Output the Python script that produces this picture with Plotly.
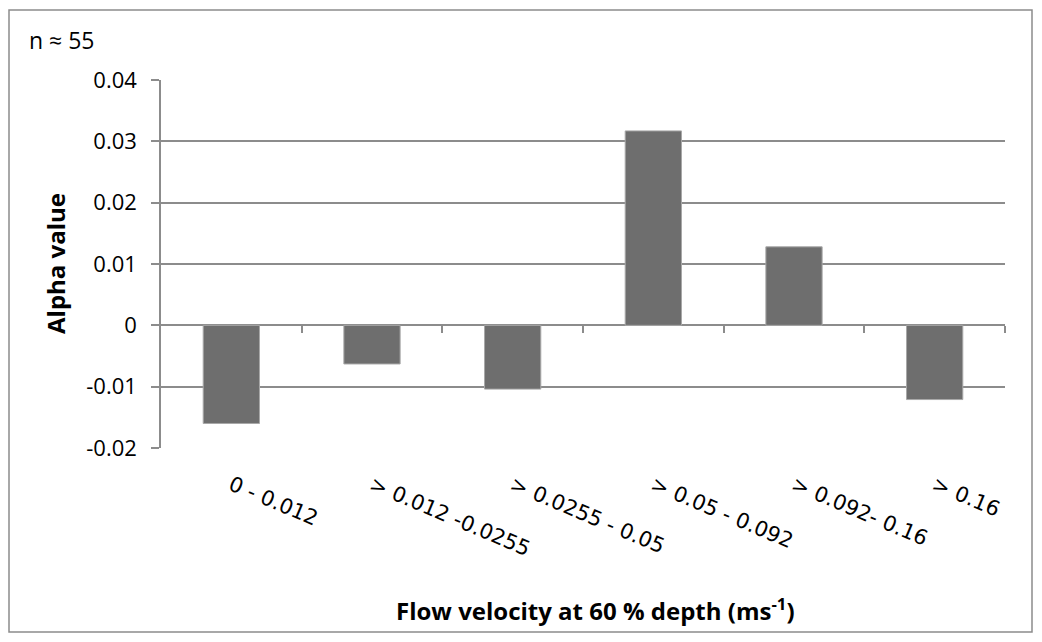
import plotly.graph_objects as go

categories = ["0 - 0.012", "> 0.012 -0.0255", "> 0.0255 - 0.05", "> 0.05 - 0.092", "> 0.092- 0.16", "> 0.16"]
alpha_values = [-0.0160, -0.0063, -0.0104, 0.0317, 0.0128, -0.0121]
y_ticks = [-0.02, -0.01, 0, 0.01, 0.02, 0.03, 0.04]
y_tick_text = ["-0.02", "-0.01", "0", "0.01", "0.02", "0.03", "0.04"]

OFF = 8  # default page body margin
W, H = 1042 - OFF, 642 - OFF
# plot area in screen pixels: x 161..1005, y 80..448
L, R, T, B = 161 - OFF, 1042 - 1005, 80 - OFF, 642 - 448
pw, ph = W - L - R, H - T - B

def px_x(p):
    return (p - OFF - L) / pw

def px_y(p):
    return (H - B - (p - OFF)) / ph

GRID = "#8c8c8c"

fig = go.Figure()
fig.add_trace(go.Bar(
    x=list(range(len(categories))), y=alpha_values,
    marker=dict(color="#6e6e6e", line=dict(color="#a8a8a8", width=1)),
    width=0.4, showlegend=False,
))

zero_pos = (0 - y_ticks[0]) / (y_ticks[-1] - y_ticks[0])

fig.update_layout(
    width=W, height=H,
    margin=dict(l=L, r=R, t=T, b=B, autoexpand=False),
    paper_bgcolor="white", plot_bgcolor="white",
    font=dict(family="Open Sans", color="black"),
    xaxis=dict(
        range=[-0.5, len(categories) - 0.5],
        tickmode="array", tickvals=list(range(len(categories))), ticktext=categories,
        tickangle=23, tickfont=dict(family="DejaVu Sans", size=21),
        ticklabelstandoff=20,
        showgrid=False, zeroline=False, showline=False, ticks="",
    ),
    yaxis=dict(
        range=[y_ticks[0], y_ticks[-1]],
        tickmode="array", tickvals=y_ticks, ticktext=y_tick_text,
        tickfont=dict(family="Open Sans", size=22),
        ticklabelstandoff=10,
        showgrid=True, gridcolor=GRID, gridwidth=1.5,
        zeroline=True, zerolinecolor=GRID, zerolinewidth=1.5,
        showline=True, linecolor=GRID, linewidth=1.5,
        ticks="outside", ticklen=8, tickcolor=GRID, tickwidth=1.5,
    ),
    xaxis2=dict(
        overlaying="x", anchor="free", position=zero_pos,
        range=[-0.5, len(categories) - 0.5],
        tickmode="array", tickvals=[i + 0.5 for i in range(len(categories))],
        showticklabels=False, ticks="outside", ticklen=7, tickcolor=GRID, tickwidth=1.5,
        showgrid=False, zeroline=False, showline=False,
    ),
)
fig.add_trace(go.Scatter(x=[None], y=[None], xaxis="x2", showlegend=False))

fig.add_shape(type="rect", xref="paper", yref="paper",
              x0=px_x(9), x1=px_x(1032), y0=px_y(632), y1=px_y(10),
              line=dict(color=GRID, width=1.5), fillcolor="rgba(0,0,0,0)", layer="below")
fig.add_annotation(text="n \u2248 55", xref="paper", yref="paper",
                   x=px_x(27), y=px_y(40), xanchor="left", yanchor="middle",
                   showarrow=False, font=dict(family="Open Sans", size=23))
fig.add_annotation(text="<b>Flow velocity at 60 % depth (ms<sup>-1</sup>)</b>", xref="paper", yref="paper",
                   x=px_x(595), y=px_y(609), xanchor="center", yanchor="middle",
                   showarrow=False, font=dict(family="Open Sans", size=24))
fig.add_annotation(text="<b>Alpha value</b>", xref="paper", yref="paper",
                   x=px_x(55), y=px_y(264), xanchor="center", yanchor="middle", textangle=-90,
                   showarrow=False, font=dict(family="Open Sans", size=24))

fig.write_html("out.html")
